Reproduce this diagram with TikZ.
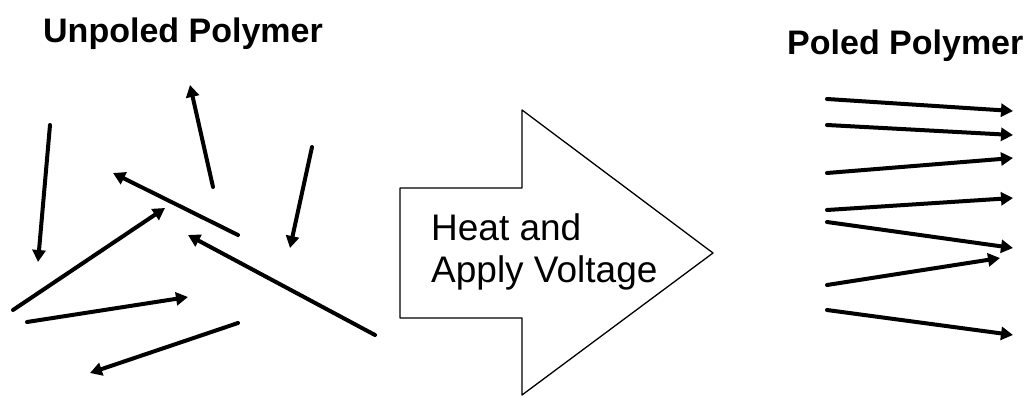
\documentclass[tikz,border=0pt]{standalone}
\usepackage{fontspec}
\setmainfont{Liberation Sans}
\usetikzlibrary{arrows.meta}

\begin{document}
\begin{tikzpicture}[x=1pt,y=-1pt,line cap=round,line join=round,
    dipole/.style={line width=4pt,-{Triangle[length=12pt,width=13pt]}},
    heading/.style={font=\fontsize{34}{40}\selectfont\bfseries,
      anchor=base west,inner sep=0pt}]
    \useasboundingbox (0,0) rectangle (1030,396);

    % Randomly oriented dipoles before poling.
    \node[heading] (unpoled) at (43,43) {Unpoled Polymer};
    \foreach \a/\b in {{50,125}/{38,262},{213,187}/{190,85},
        {238,235}/{113,173},{312,147}/{290,248},{13,310}/{165,208},
        {375,335}/{188,235},{27,322}/{188,297},{238,323}/{90,373}}
      \draw[dipole] (\a) -- (\b);

    % The process step as a block arrow.
    \draw[line width=1.3pt,fill=white]
      (400,188) -- (522,188) -- (522,110) -- (713,253)
      -- (522,395) -- (522,318) -- (400,318) -- cycle;
    \node[anchor=north west,inner sep=0pt,align=left,
      font=\fontsize{37}{42}\selectfont] (step1) at (431,213)
      {Heat and\\Apply Voltage};

    % Dipoles lined up after poling.
    \node[heading] (poled) at (787,55) {Poled Polymer};
    \foreach \a/\b in {{827,99}/{1013,111},{827,125}/{1013,135},
        {827,173}/{1013,158},{827,210}/{1013,198},{827,222}/{1013,248},
        {827,285}/{1000,258},{827,310}/{1013,335}}
      \draw[dipole] (\a) -- (\b);
  \end{tikzpicture}
\end{document}
